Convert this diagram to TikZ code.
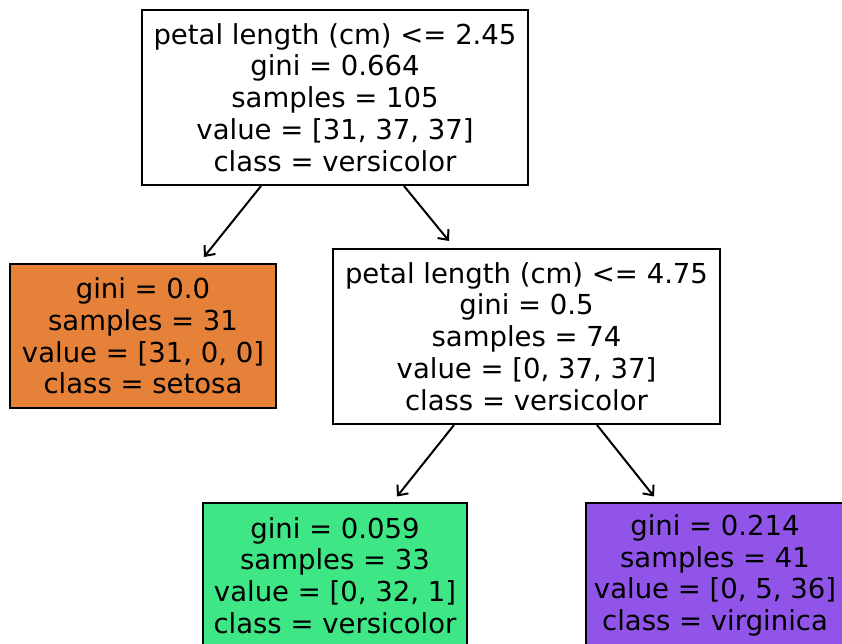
\documentclass[tikz,border=0pt]{standalone}
\usepackage{fontspec}
\setmainfont{DejaVu Sans}
\usetikzlibrary{arrows.meta,positioning}
\definecolor{setosa}{RGB}{229,129,57}
\definecolor{versi}{RGB}{62,230,133}
\definecolor{virgi}{RGB}{145,84,233}
\tikzset{
  treebox/.style={draw=black, line width=2pt, inner sep=0pt, align=center,
    font=\fontsize{27.5pt}{31.8pt}\selectfont, text=black},
  split/.style={treebox, fill=white, minimum width=386pt, minimum height=175pt},
  leaf/.style={treebox, minimum width=266pt, minimum height=144pt},
  edge/.style={line width=2pt, -{Straight Barb[length=8pt,width=14pt,line width=2pt]}}
}
\begin{document}
\begin{tikzpicture}[x=1pt,y=1pt]
\useasboundingbox (0,0) rectangle (842,644);
\clip (0,0) rectangle (842,644);
\fill[white] (0,0) rectangle (842,644);
\node[split] (root) at (335,546.5) {petal length (cm) <= 2.45\\gini = 0.664\\samples = 105\\value = [31, 37, 37]\\class = versicolor};
\node[leaf, fill=setosa] (left) at (143,308) {gini = 0.0\\samples = 31\\value = [31, 0, 0]\\class = setosa};
\node[split, minimum width=387pt] (mid) at (526.5,307.5) {petal length (cm) <= 4.75\\gini = 0.5\\samples = 74\\value = [0, 37, 37]\\class = versicolor};
\node[leaf, fill=versi, minimum width=264pt] (bl) at (335,68.5) {gini = 0.059\\samples = 33\\value = [0, 32, 1]\\class = versicolor};
\node[leaf, fill=virgi, minimum width=258pt] (br) at (715,68.5) {gini = 0.214\\samples = 41\\value = [0, 5, 36]\\class = virginica};
\draw[edge] ([xshift=120pt]root.south west) -- ([xshift=195pt,yshift=6pt]left.north west);
\draw[edge] ([xshift=263pt]root.south west) -- ([xshift=117pt,yshift=7pt]mid.north west);
\draw[edge] ([xshift=122pt]mid.south west) -- ([xshift=195pt,yshift=6pt]bl.north west);
\draw[edge] ([xshift=265pt]mid.south west) -- ([xshift=69pt,yshift=6pt]br.north west);
\end{tikzpicture}
\end{document}
